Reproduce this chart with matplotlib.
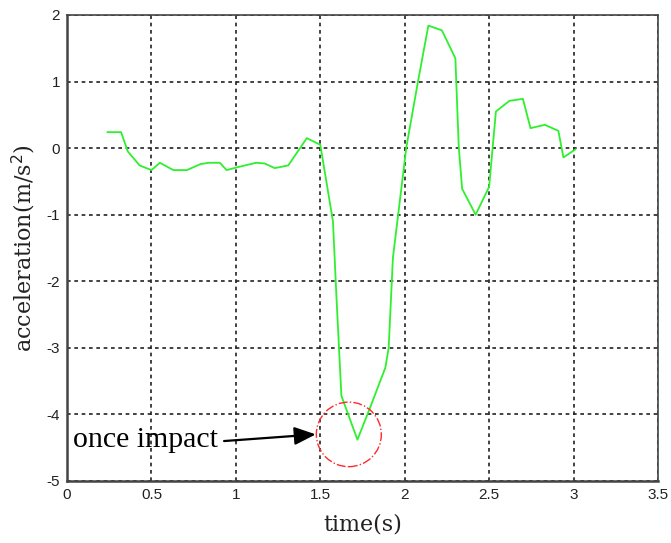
import matplotlib
matplotlib.use("Agg")
import matplotlib.pyplot as plt
from matplotlib.patches import Ellipse

# acceleration record of a single fall / impact event
time_s = [0.24, 0.32, 0.36, 0.43, 0.50, 0.55, 0.63, 0.71, 0.79, 0.84,
          0.905, 0.945, 1.02, 1.12, 1.17, 1.23, 1.31, 1.38, 1.42, 1.50,
          1.575, 1.595, 1.625, 1.72, 1.79, 1.885, 1.905, 1.93, 2.01, 2.08,
          2.14, 2.22, 2.30, 2.32, 2.34, 2.42, 2.50, 2.54, 2.62, 2.70,
          2.745, 2.83, 2.91, 2.94, 3.01]
accel = [0.24, 0.24, -0.05, -0.26, -0.33, -0.22, -0.33, -0.33, -0.24, -0.22,
         -0.22, -0.33, -0.28, -0.22, -0.23, -0.30, -0.26, 0.00, 0.15, 0.05,
         -1.10, -2.20, -3.72, -4.38, -3.93, -3.30, -3.00, -1.65, 0.02, 1.02,
         1.84, 1.77, 1.35, 0.02, -0.61, -1.00, -0.58, 0.55, 0.71, 0.74,
         0.30, 0.35, 0.26, -0.14, -0.02]

x_ticks = [0, 0.5, 1, 1.5, 2, 2.5, 3, 3.5]
x_tick_labels = ["0", "0.5", "1", "1.5", "2", "2.5", "3", "3.5"]
y_ticks = [-5, -4, -3, -2, -1, 0, 1, 2]
y_tick_labels = ["-5", "-4", "-3", "-2", "-1", "0", "1", "2"]

# impact marker: circle centre / size, arrow tail / tip, label
impact_center = (1.669, -4.30)
impact_size = (0.385, 0.97)
arrow_tip = (1.473, -4.30)
arrow_tail = (0.93, -4.40)
impact_text = "once impact"

fig = plt.figure(figsize=(6.71, 5.43), dpi=100)
ax = fig.add_axes([0.0999, 0.1142, 0.8807, 0.8582])

ax.plot(time_s, accel, color="#2ef02e", lw=1.3, zorder=3)

ax.set_xlim(0, 3.5)
ax.set_ylim(-5, 2)
ax.set_xticks(x_ticks)
ax.set_xticklabels(x_tick_labels)
ax.set_yticks(y_ticks)
ax.set_yticklabels(y_tick_labels)
ax.tick_params(direction="in", length=0, labelsize=11, labelcolor="#222222",
               pad=5)
for lab in ax.get_xticklabels() + ax.get_yticklabels():
    lab.set_family("Liberation Sans")

ax.grid(True, color="#222222", linestyle=(0, (2.2, 2.2)), lw=1.2)
ax.set_axisbelow(True)

for side, sp in ax.spines.items():
    sp.set_color("#444444")
    sp.set_linewidth(1.8 if side in ("left", "bottom") else 1.2)

ax.set_xlabel("time(s)", family="DejaVu Serif", fontsize=16, labelpad=8,
              color="#222222")
ax.set_ylabel("acceleration(m/s$^2$)", family="DejaVu Serif", fontsize=16,
              labelpad=6, color="#222222")

ax.add_patch(Ellipse(impact_center, impact_size[0], impact_size[1],
                     fill=False, edgecolor="#ff2a2a", lw=1.0,
                     linestyle="-.", zorder=4))

ax.annotate("", xy=arrow_tip, xytext=arrow_tail,
            arrowprops=dict(arrowstyle="-|>,head_length=1.3,head_width=0.55",
                            color="black", lw=1.6, shrinkA=0, shrinkB=0),
            zorder=5)
ax.text(0.035, arrow_tail[1] + 0.02, impact_text, family="Liberation Serif",
        fontsize=21.5, ha="left", va="center", color="black", zorder=5)

fig.savefig("out.png", dpi=100)
